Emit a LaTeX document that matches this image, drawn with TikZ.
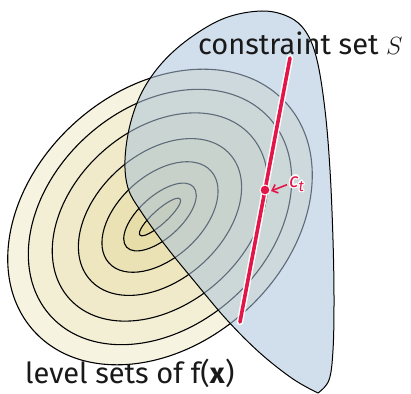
\documentclass[tikz,border=0pt]{standalone}
\usepackage{fontspec}
\setmainfont{Fira Sans}
\usetikzlibrary{arrows.meta,calc}
\definecolor{ybase}{RGB}{224,212,145}
\definecolor{bluS}{RGB}{172,196,220}
\definecolor{redC}{RGB}{226,22,72}
\tikzset{
  lvl/.style={draw=black, line width=1.1pt},
  sregion/.style={fill=bluS, fill opacity=0.55},
  sedge/.style={draw=black, line width=1pt},
  halo/.style={draw=white, line width=6.5pt, line cap=round},
  redline/.style={draw=redC, line width=3.6pt, line cap=round},
  lbl/.style={font=\fontsize{29}{34}\selectfont, text=black!90, inner sep=0pt}
}
\newcommand{\ctlabel}{\fontsize{20}{24}\selectfont\textit{c}\raisebox{-4pt}{\fontsize{15}{18}\selectfont\textit{t}}}
\begin{document}
\begin{tikzpicture}[x=1pt,y=-1pt]
\useasboundingbox[fill=white] (0,0) rectangle (411,393);
\coordinate (c) at (160,217);
% level sets
\foreach \a/\b/\p in {170/127/28, 147.5/109/38, 122/87/48, 94/63/58, 68.7/41.3/68, 45/21/78, 27/7/88}{
  \draw[lvl, fill=ybase!\p!white, rotate around={42:(c)}] (c) ellipse [x radius=\a, y radius=\b];
}
% constraint set
\path[sregion] plot[smooth, tension=0.6] coordinates {(318,393) (329,380) (333,350) (334,300) (333,240) (330,170) (325,110) (317,60) (306,32) (289,17) (262,11) (225,18) (190,38) (162,63) (142,92) (130,125) (125,160) (128,188) (140,210) (165,245) (195,282) (227,320) (260,353) (293,379) (318,393)} -- cycle;
\path[sedge] plot[smooth, tension=0.6] coordinates {(318,393) (329,380) (333,350) (334,300) (333,240) (330,170) (325,110) (317,60) (306,32) (289,17) (262,11) (225,18) (190,38) (162,63) (142,92) (130,125) (125,160) (128,188) (140,210) (165,245) (195,282) (227,320) (260,353) (293,379) (318,393)};
% red line
\coordinate (top) at (290,58);
\coordinate (bot) at (240,322);
\path[halo] (top) -- (bot);
\path[redline] (top) -- (bot);
\node[circle, fill=redC, draw=white, line width=1pt, minimum size=10pt, inner sep=0pt] (ct) at (265,190) {};
% label c_t with halo
\foreach \dx/\dy in {-1.3/0,1.3/0,0/-1.3,0/1.3,-1/-1,1/1,-1/1,1/-1}{
  \node[text=white, anchor=base west, inner sep=0pt] at ([shift={(\dx,\dy)}]289,187) {\ctlabel};
}
\node[text=redC, anchor=base west, inner sep=0pt] (ctl) at (289,187) {\ctlabel};
\draw[redC, line width=1.6pt, -{Straight Barb[length=5pt,width=9pt,line width=1.6pt]}] ([xshift=-2pt,yshift=-1pt]ctl.west) -- ([xshift=6pt,yshift=-1pt]ct.center);
% labels
\node[lbl, anchor=base west] (st) at (198,55) {constraint set $S$};
\node[lbl, anchor=base west] (ls) at (25,383) {level sets of f(\textbf{x})};
\end{tikzpicture}
\end{document}
